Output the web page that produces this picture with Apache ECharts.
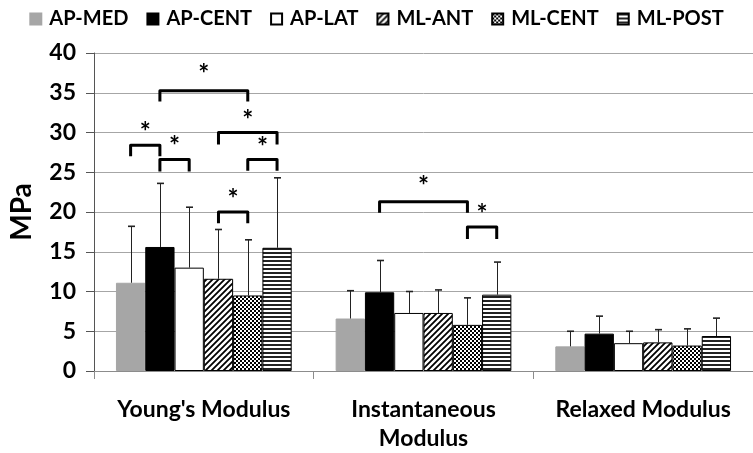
<!DOCTYPE html>
<html>
<head>
<meta charset="utf-8">
<script src="https://cdn.jsdelivr.net/npm/echarts@6/dist/echarts.min.js"></script>
<style>html,body{margin:0;padding:0;background:#fff}#c{width:753px;height:453px}</style>
</head>
<body>
<div id="c"></div>
<script>
// ---- data ----
const categories = ["Young's Modulus", "Instantaneous\nModulus", "Relaxed Modulus"];
const seriesNames = ['AP-MED', 'AP-CENT', 'AP-LAT', 'ML-ANT', 'ML-CENT', 'ML-POST'];
const apMed  = [11.1, 6.6, 3.1];
const apCent = [15.6, 9.9, 4.7];
const apLat  = [13.0, 7.3, 3.5];
const mlAnt  = [11.6, 7.3, 3.6];
const mlCent = [9.5, 5.8, 3.2];
const mlPost = [15.5, 9.6, 4.4];
// standard deviations (upper error bars)
const apMedSd  = [7.1, 3.5, 1.9];
const apCentSd = [8.0, 4.0, 2.2];
const apLatSd  = [7.6, 2.7, 1.5];
const mlAntSd  = [6.2, 2.9, 1.6];
const mlCentSd = [7.0, 3.4, 2.1];
const mlPostSd = [8.8, 4.1, 2.25];
// significance brackets: [category, fromBar, toBar, bracketTop, legBottom, starLevel]
const brackets = [
  [0, 0, 1, 28.4, 27.0, 30.8],
  [0, 1, 2, 26.6, 25.1, 29.0],
  [0, 1, 4, 35.25, 33.9, 38.0],
  [0, 3, 5, 30.0, 28.5, 32.3],
  [0, 4, 5, 26.6, 25.2, 28.9],
  [0, 3, 4, 20.0, 18.6, 22.3],
  [1, 1, 4, 21.3, 19.9, 24.0],
  [1, 4, 5, 18.1, 16.6, 20.4]
];
const yTicks = {min: 0, max: 40, interval: 5};

const means = [apMed, apCent, apLat, mlAnt, mlCent, mlPost];
const sds = [apMedSd, apCentSd, apLatSd, mlAntSd, mlCentSd, mlPostSd];

// ---- patterns ----
function canvasPattern(w, h, draw) {
  const c = document.createElement('canvas');
  c.width = w; c.height = h;
  const g = c.getContext('2d');
  g.fillStyle = '#fff'; g.fillRect(0, 0, w, h);
  g.fillStyle = '#000'; g.strokeStyle = '#000';
  draw(g, w, h);
  return {image: c, repeat: 'repeat'};
}
const diag = canvasPattern(6, 6, (g, w, h) => {
  g.lineWidth = 1.8;
  g.beginPath();
  g.moveTo(-1, h + 1); g.lineTo(w + 1, -1);
  g.moveTo(-1, 1); g.lineTo(1, -1);
  g.moveTo(w - 1, h + 1); g.lineTo(w + 1, h - 1);
  g.stroke();
});
const checker = canvasPattern(4, 4, (g) => {
  g.fillRect(0, 0, 2, 2); g.fillRect(2, 2, 2, 2);
});
const stripes = canvasPattern(4, 4, (g) => {
  g.fillStyle = '#222'; g.fillRect(0, 0, 4, 2);
});
const fills = ['#a6a6a6', '#000000', '#ffffff', diag, checker, stripes];

const FONT = 'Lato';
const BAR_GAP_FRAC = 0.2; // barCategoryGap 20%

function barCenter(cat, j) {
  return cat + BAR_GAP_FRAC / 2 + (j + 0.5) * (1 - BAR_GAP_FRAC) / seriesNames.length;
}

const barSeries = seriesNames.map((name, j) => ({
  name: name,
  type: 'bar',
  xAxisIndex: 0,
  yAxisIndex: 0,
  barGap: '0%',
  barCategoryGap: '20%',
  data: means[j],
  itemStyle: {
    color: fills[j],
    borderColor: j === 0 ? '#a6a6a6' : '#000',
    borderWidth: 1
  },
  emphasis: {disabled: true},
  z: 2
}));

const errData = [];
seriesNames.forEach((n, j) => {
  means[j].forEach((m, i) => errData.push([i, j, m, sds[j][i]]));
});

const option = {
  animation: false,
  backgroundColor: '#fff',
  textStyle: {fontFamily: FONT},
  legend: {
    top: 4,
    left: 'center',
    itemWidth: 11,
    itemHeight: 11,
    itemGap: 18,
    icon: 'rect',
    data: seriesNames,
    textStyle: {fontFamily: FONT, fontWeight: 'bold', fontSize: 20, color: '#000', padding: [0, 0, 0, 3]}
  },
  grid: {left: 93, right: -14, top: 53, bottom: 81, containLabel: false},
  xAxis: [{
    type: 'category',
    data: categories,
    axisLine: {lineStyle: {color: '#8c8c8c', width: 1}},
    axisTick: {show: true, length: 8, lineStyle: {color: '#8c8c8c'}},
    axisLabel: {fontFamily: FONT, fontWeight: 'bold', fontSize: 23, color: '#000', margin: 24, lineHeight: 29, interval: 0}
  }, {
    type: 'value', min: 0, max: 3, show: false
  }],
  yAxis: [{
    type: 'value',
    min: yTicks.min, max: yTicks.max, interval: yTicks.interval,
    name: 'MPa',
    nameLocation: 'middle',
    nameGap: 58,
    nameTextStyle: {fontFamily: FONT, fontWeight: 'bold', fontSize: 28, color: '#000'},
    axisLine: {show: true, lineStyle: {color: '#555', width: 1}},
    axisTick: {show: true, length: 8, lineStyle: {color: '#555'}},
    axisLabel: {fontFamily: FONT, fontWeight: 'bold', fontSize: 23, color: '#000', margin: 18},
    splitLine: {show: true, lineStyle: {color: '#a6a6a6', width: 1}}
  }],
  series: barSeries.concat([
    {
      type: 'custom',
      name: 'err',
      xAxisIndex: 1,
      yAxisIndex: 0,
      silent: true,
      z: 5,
      encode: {x: 0, y: 2},
      data: errData,
      renderItem: function (params, api) {
        const x = barCenter(api.value(0), api.value(1));
        const p0 = api.coord([x, api.value(2)]);
        const p1 = api.coord([x, api.value(2) + api.value(3)]);
        const px = Math.round(p0[0]) + 0.5;
        return {
          type: 'group',
          children: [
            {type: 'line', shape: {x1: px, y1: p0[1], x2: px, y2: p1[1]}, style: {stroke: '#222', lineWidth: 1}},
            {type: 'line', shape: {x1: px - 3.5, y1: p1[1], x2: px + 3.5, y2: p1[1]}, style: {stroke: '#222', lineWidth: 1.6}}
          ]
        };
      }
    },
    {
      type: 'custom',
      name: 'sig',
      xAxisIndex: 1,
      yAxisIndex: 0,
      silent: true,
      z: 6,
      encode: {x: 0, y: 3},
      data: brackets,
      renderItem: function (params, api) {
        const c = api.value(0);
        const xa = barCenter(c, api.value(1));
        const xb = barCenter(c, api.value(2));
        const a0 = api.coord([xa, api.value(4)]);
        const a1 = api.coord([xa, api.value(3)]);
        const b1 = api.coord([xb, api.value(3)]);
        const b0 = api.coord([xb, api.value(4)]);
        const s = api.coord([(xa + xb) / 2, api.value(5)]);
        return {
          type: 'group',
          children: [
            {type: 'polyline', shape: {points: [a0, a1, b1, b0]},
             style: {stroke: '#000', lineWidth: 3, fill: null, lineJoin: 'round', lineCap: 'butt'}},
            {type: 'text', x: s[0], y: s[1] + 6,
             style: {text: '*', fontFamily: FONT, fontWeight: 'bold', fontSize: 26, fill: '#000',
                     align: 'center', verticalAlign: 'middle'}}
          ]
        };
      }
    }
  ])
};

const chart = echarts.init(document.getElementById('c'), null, {renderer: 'canvas'});
chart.setOption(option);
</script>
</body>
</html>
